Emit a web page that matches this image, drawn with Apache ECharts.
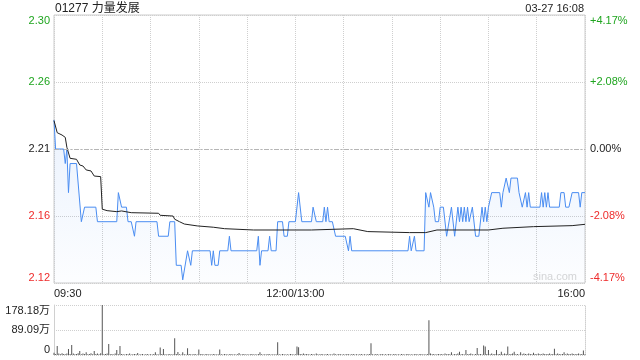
<!DOCTYPE html>
<html><head><meta charset="utf-8">
<script src="https://cdn.jsdelivr.net/npm/echarts@6/dist/echarts.min.js"></script>
<style>html,body{margin:0;padding:0;background:#fff}#c{width:640px;height:360px}</style>
</head><body><div id="c"></div>
<script>
const stockTitle = '01277 力量发展';
const timeStamp = '03-27 16:08';
const prevClose = 2.21;
const rangePct = 4.17;
const leftTickLabels = ['2.12','2.16','2.21','2.26','2.30'];
const rightTickLabels = ['-4.17%','-2.08%','0.00%','+2.08%','+4.17%'];
const timeTickLabels = {0:'09:30',150:'12:00/13:00',330:'16:00'};
const volTickLabels = ['0','89.09万','178.18万'];
const volMax = 178.18;

// [minute from 09:30 (lunch break removed), price]
const pricePoints = [[0,2.23],[1,2.21],[6,2.21],[7,2.20],[8,2.21],[9,2.18],[10,2.20],[14,2.20],[17,2.16],[19,2.17],[26,2.17],[27,2.16],[39,2.16],[40,2.18],[42,2.17],[45,2.17],[46,2.16],[48,2.16],[50,2.15],[51,2.16],[64,2.16],[65,2.15],[71,2.15],[72,2.16],[75,2.16],[76,2.13],[79,2.13],[80,2.12],[81,2.12],[83,2.14],[85,2.13],[86,2.14],[97,2.14],[98,2.13],[99,2.14],[100,2.13],[102,2.13],[103,2.14],[108,2.14],[109,2.15],[110,2.14],[126,2.14],[127,2.15],[128,2.13],[129,2.14],[133,2.14],[134,2.15],[135,2.14],[138,2.14],[139,2.16],[142,2.16],[143,2.15],[145,2.15],[146,2.16],[150,2.16],[152,2.18],[154,2.16],[160,2.16],[161,2.17],[162,2.17],[163,2.16],[167,2.16],[168,2.17],[169,2.16],[170,2.17],[171,2.16],[173,2.16],[175,2.15],[181,2.15],[183,2.14],[184,2.15],[185,2.14],[220,2.14],[221,2.15],[222,2.14],[224,2.15],[225,2.14],[230,2.14],[231,2.18],[233,2.17],[234,2.18],[236,2.17],[237,2.16],[239,2.16],[240,2.17],[242,2.17],[244,2.15],[245,2.15],[247,2.17],[248,2.17],[249,2.15],[251,2.17],[252,2.16],[253,2.17],[254,2.16],[255,2.17],[256,2.16],[257,2.17],[258,2.16],[260,2.17],[261,2.17],[262,2.15],[264,2.15],[266,2.17],[267,2.16],[268,2.17],[269,2.16],[270,2.17],[272,2.18],[277,2.18],[278,2.17],[279,2.18],[281,2.19],[282,2.19],[283,2.18],[284,2.19],[288,2.19],[289,2.18],[291,2.17],[292,2.17],[293,2.18],[294,2.17],[295,2.18],[296,2.17],[302,2.17],[303,2.18],[304,2.17],[305,2.18],[306,2.17],[307,2.18],[308,2.17],[314,2.17],[315,2.18],[317,2.18],[318,2.17],[320,2.17],[322,2.18],[326,2.18],[327,2.17],[328,2.18],[330,2.18]];

const avgPoints = [[0,2.2295],[2,2.2212],[5,2.2196],[7,2.2180],[8,2.2112],[10,2.2036],[14,2.2029],[16,2.1990],[18,2.1983],[20,2.1956],[23,2.1949],[25,2.1914],[29,2.1910],[30,2.1686],[33,2.1676],[39,2.1669],[42,2.1674],[48,2.1662],[65,2.1658],[66,2.1644],[74,2.1639],[75,2.1617],[78,2.1600],[81,2.1584],[89,2.1571],[99,2.1562],[106,2.1552],[124,2.1543],[160,2.1543],[161,2.1552],[186,2.1552],[187,2.1543],[195,2.1532],[221,2.1525],[231,2.1525],[232,2.1532],[238,2.1543],[270,2.1543],[271,2.1555],[279,2.1555],[280,2.1566],[298,2.1566],[299,2.1573],[322,2.1573],[323,2.1582],[330,2.1582]];

// volume per minute, in 万
const volumes = [
8,4,32,5,3,6,4,3,5,21, 4,36,5,3,4,6,14,3,5,4, 10,3,4,6,3,14,4,5,3,6,
178,3,4,5,39,3,4,2,5,18, 3,32,4,3,2,4,3,5,2,3, 4,3,7,2,3,4,2,3,4,2,
3,2,4,10,3,2,27,4,21,3, 2,3,4,2,3,60,4,11,3,2, 10,3,2,24,4,3,2,4,3,2,
20,3,4,2,3,4,2,3,2,4, 3,2,3,20,3,2,4,3,2,3, 4,2,3,2,3,7,2,3,4,2,
3,2,3,4,2,3,2,4,10,3, 2,3,2,4,3,2,3,2,3,45, 3,2,4,3,2,3,2,4,3,2,
3,30,28,4,3,5,3,4,3,2, 4,3,2,5,3,2,4,3,2,3, 4,2,3,2,5,3,2,4,3,2,
3,2,4,3,2,3,4,2,3,2, 3,4,2,3,2,3,4,42,3,2, 4,3,2,3,4,2,3,2,4,3,
2,3,4,2,3,2,4,3,2,3, 4,2,3,2,3,4,2,3,4,2, 3,2,4,124,5,3,4,2,3,4,
3,4,2,5,3,4,3,10,2,4, 3,5,12,3,4,2,18,3,4,5, 3,2,4,25,3,4,2,34,30,4,
18,3,5,3,4,18,3,4,12,3, 5,4,30,3,4,5,12,3,4,2, 10,3,5,4,3,5,4,3,8,4,
3,5,4,3,5,4,3,4,5,3, 4,22,3,5,4,3,4,10,3,5, 4,3,5,4,3,4,5,3,4,16,
3];

const FONT = "'Liberation Sans','Noto Sans CJK SC',sans-serif";
const toPct = p => (p - prevClose) / prevClose * 100;
const step = rangePct / 2;
const tickIdx = v => Math.round((parseFloat(v) + rangePct) / step);
const colorFor = v => { v = parseFloat(v); return v > 0.01 ? '#1fa51f' : (v < -0.01 ? '#ee2b2b' : '#222'); };

const chart = echarts.init(document.getElementById('c'), null, {renderer: 'canvas'});
chart.setOption({
  animation: false,
  backgroundColor: '#fff',
  textStyle: {fontFamily: FONT},
  graphic: [
    {type: 'text', left: 55, top: 3, style: {text: stockTitle, font: '12px ' + FONT, fill: '#222'}},
    {type: 'text', right: 56, top: 3, style: {text: timeStamp, font: '11px ' + FONT, fill: '#222'}},
    {type: 'text', left: 533, top: 271, z: 1, style: {text: 'sina.com', font: '11px ' + FONT, fill: '#d6d6d6'}}
  ],
  grid: [
    {left: 54, right: 55, top: 15, height: 268, show: true, borderColor: '#cccccc', borderWidth: 1},
    {left: 54, right: 55, top: 305, height: 50}
  ],
  xAxis: [
    {type: 'value', gridIndex: 0, min: 0, max: 330, interval: 30,
     axisLine: {show: false}, axisTick: {show: false},
     splitLine: {show: true, lineStyle: {color: '#cfcfcf', type: 'dotted'}},
     axisLabel: {formatter: v => timeTickLabels[v] || '', fontSize: 11, color: '#222', margin: 5,
                 alignMinLabel: 'left', alignMaxLabel: 'right', fontFamily: FONT}},
    {type: 'value', gridIndex: 1, min: 0, max: 330,
     axisLine: {show: false}, axisTick: {show: false}, splitLine: {show: false}, axisLabel: {show: false}}
  ],
  yAxis: [
    {type: 'value', gridIndex: 0, min: -rangePct, max: rangePct, interval: step, position: 'left',
     axisLine: {show: false}, axisTick: {show: false},
     splitLine: {show: true, lineStyle: {color: '#cfcfcf', type: 'dotted'}},
     axisLabel: {formatter: v => leftTickLabels[tickIdx(v)], color: colorFor, fontSize: 11, margin: 4,
                 verticalAlignMinLabel: 'bottom', verticalAlignMaxLabel: 'top', fontFamily: FONT}},
    {type: 'value', gridIndex: 0, min: -rangePct, max: rangePct, interval: step, position: 'right',
     axisLine: {show: false}, axisTick: {show: false}, splitLine: {show: false},
     axisLabel: {formatter: v => rightTickLabels[tickIdx(v)], color: colorFor, fontSize: 11, margin: 5,
                 verticalAlignMinLabel: 'bottom', verticalAlignMaxLabel: 'top', fontFamily: FONT}},
    {type: 'value', gridIndex: 1, min: 0, max: volMax, interval: volMax / 2, position: 'left',
     axisLine: {show: true, lineStyle: {color: '#d0d0d0'}}, axisTick: {show: false},
     splitLine: {show: true, lineStyle: {color: '#cfcfcf', type: 'dotted'}},
     axisLabel: {formatter: v => volTickLabels[Math.round(parseFloat(v) / (volMax / 2))], color: '#222',
                 fontSize: 11, margin: 4, verticalAlignMinLabel: 'bottom', verticalAlignMaxLabel: 'top',
                 fontFamily: "'Liberation Sans Narrow','Liberation Sans','Noto Sans CJK SC',sans-serif"}},
    {type: 'value', gridIndex: 1, min: 0, max: volMax, position: 'right',
     axisLine: {show: true, lineStyle: {color: '#cfcfcf', type: 'dotted'}}, axisTick: {show: false},
     splitLine: {show: false}, axisLabel: {show: false}}
  ],
  series: [
    {type: 'line', xAxisIndex: 0, yAxisIndex: 0, z: 3,
     data: pricePoints.map(d => [d[0], toPct(d[1])]),
     showSymbol: false, symbol: 'none',
     lineStyle: {color: '#4a8df2', width: 1},
     areaStyle: {origin: 'start', color: new echarts.graphic.LinearGradient(0, 0, 0, 1, [
       {offset: 0, color: 'rgba(74,141,242,0.16)'}, {offset: 1, color: 'rgba(74,141,242,0.02)'}])}},
    {type: 'line', xAxisIndex: 0, yAxisIndex: 0, z: 4,
     data: avgPoints.map(d => [d[0], toPct(d[1])]),
     showSymbol: false, symbol: 'none',
     lineStyle: {color: '#222', width: 1},
     markLine: {silent: true, symbol: 'none', label: {show: false},
                lineStyle: {color: '#b5b5b5', type: [5, 2, 1, 2], width: 1},
                data: [{yAxis: 0}]}},
    {type: 'bar', xAxisIndex: 1, yAxisIndex: 2,
     data: volumes.map((v, i) => [i, v]),
     barWidth: 1, itemStyle: {color: '#555'}}
  ]
});
</script></body></html>
